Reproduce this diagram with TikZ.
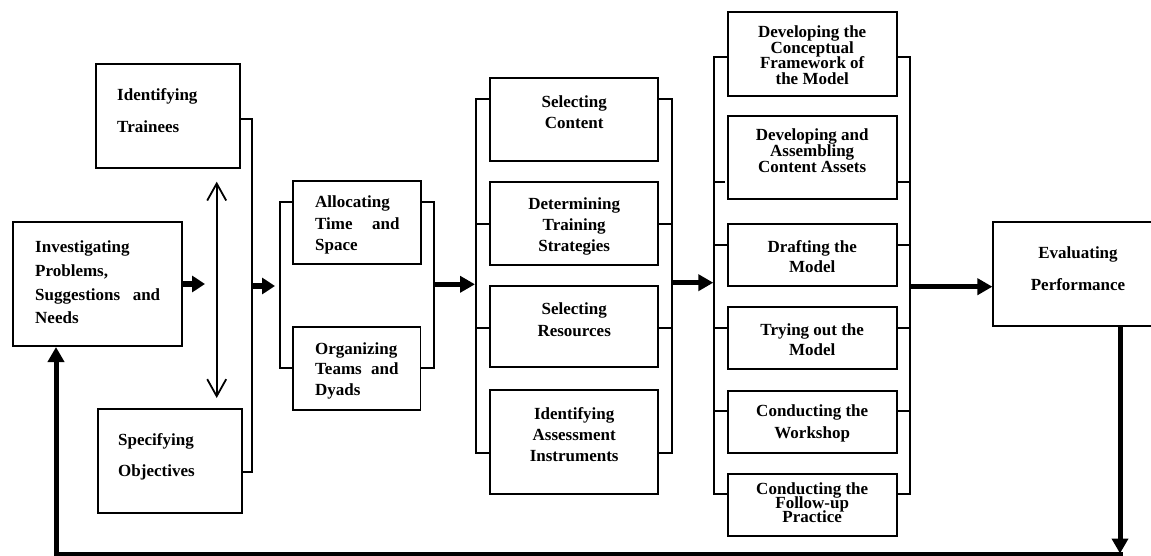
\documentclass[tikz,border=0pt]{standalone}
\usepackage{fontspec}
\setmainfont{Liberation Serif}
\usetikzlibrary{arrows.meta}
\newcommand{\fsz}[1]{\fontsize{17}{#1}\selectfont\bfseries\lineskiplimit=-50pt\relax}
\begin{document}
\begin{tikzpicture}[x=1pt,y=-1pt,
  box/.style={draw, line width=1.9pt, inner sep=0pt},
  txt/.style={inner sep=0pt},
  br/.style={line width=1.8pt},
  thk/.style={line width=5pt, -{Triangle[length=15pt,width=16pt]}},
  thks/.style={line width=6pt, -{Triangle[length=13pt,width=16pt]}},
  dbl/.style={line width=1.8pt, {Straight Barb[length=17pt,width=19pt]}-{Straight Barb[length=17pt,width=19pt]}}
]
\path[use as bounding box, fill=white] (0,0) rectangle (1151,556);

% ---- boxes
\node[box, minimum width=144pt, minimum height=104pt] (trainees) at (168,116) {};
\node[box, minimum width=169pt, minimum height=123.7pt] (inv) at (97.8,284.2) {};
\node[box, minimum width=144.6pt, minimum height=104pt] (spec) at (170,461.3) {};
\node[box, minimum width=127.7pt, minimum height=83.3pt] (alloc) at (357.2,222.7) {};
\node[box, minimum width=127.2pt, minimum height=83.3pt] (org) at (356.9,368.3) {};
\node[box, minimum width=168.3pt, minimum height=82.7pt] (selc) at (574.2,119.7) {};
\node[box, minimum width=168.3pt, minimum height=82.7pt] (det) at (574.2,223.7) {};
\node[box, minimum width=168.3pt, minimum height=81.3pt] (selr) at (574.2,326.7) {};
\node[box, minimum width=168.3pt, minimum height=104pt] (ident) at (574.2,442) {};
\node[box, minimum width=169pt, minimum height=83.4pt] (dev1) at (812.2,54) {};
\node[box, minimum width=169pt, minimum height=83.3pt] (dev2) at (812.2,157.7) {};
\node[box, minimum width=169pt, minimum height=62pt] (draft) at (812.2,255) {};
\node[box, minimum width=169pt, minimum height=62pt] (try) at (812.2,338.3) {};
\node[box, minimum width=169pt, minimum height=62pt] (work) at (812.2,421.7) {};
\node[box, minimum width=169pt, minimum height=61.7pt] (follow) at (812.2,504.9) {};
\node[box, minimum width=159.7pt, minimum height=104.3pt] (eval) at (1073.2,273.9) {};

% ---- texts
\node[txt, anchor=west, align=left, font=\fsz{32}] (traineesT) at (117,111) {Identifying\\Trainees};
\node[txt, anchor=west, align=left, font=\fsz{23.8}] (invT) at (35,282.3) {Investigating\\Problems,\\\hbox to 125pt{Suggestions\hfill and}\\Needs};
\node[txt, anchor=west, align=left, font=\fsz{31.3}] (specT) at (118,456.7) {Specifying\\Objectives};
\node[txt, anchor=west, align=left, font=\fsz{21.7}] (allocT) at (315,225) {Allocating\\\hbox to 84.3pt{Time\hfill and}\\Space};
\node[txt, anchor=west, align=left, font=\fsz{20.8}] (orgT) at (315,370.8) {Organizing\\\hbox to 83.3pt{Teams\hfill and}\\Dyads};
\node[txt, align=center, font=\fsz{21}] (selcT) at (574.2,112.2) {Selecting\\Content};
\node[txt, align=center, font=\fsz{21.2}] (detT) at (574.2,226.2) {Determining\\Training\\Strategies};
\node[txt, align=center, font=\fsz{21.7}] (selrT) at (574.2,319.8) {Selecting\\Resources};
\node[txt, align=center, font=\fsz{21.2}] (identT) at (574.2,434.5) {Identifying\\Assessment\\Instruments};
\node[txt, align=center, font=\fsz{15.5}] (dev1T) at (812.2,55) {Developing the\\Conceptual\\Framework of\\the Model};
\node[txt, align=center, font=\fsz{15.8}] (dev2T) at (812.2,150.8) {Developing and\\Assembling\\Content Assets};
\node[txt, align=center, font=\fsz{20}] (draftT) at (812.2,256.7) {Drafting the\\Model};
\node[txt, align=center, font=\fsz{20}] (tryT) at (812.2,340) {Trying out the\\Model};
\node[txt, align=center, font=\fsz{21.3}] (workT) at (812.2,423.3) {Conducting the\\Workshop};
\node[txt, align=center, font=\fsz{14.2}] (followT) at (812.2,502.8) {Conducting the\\Follow-up\\Practice};
\node[txt, align=center, font=\fsz{32.3}] (evalT) at (1078,268.8) {Evaluating\\Performance};

% ---- bracket A (trainees / objectives)
\coordinate (a1) at (252,119.3);
\coordinate (a2) at (252,472.3);
\draw[br] (trainees.east|-a1) -- (a1) -- (a2) -- (spec.east|-a2);
\coordinate (d1) at (216.7,181.7);
\coordinate (d2) at (216.7,398);
\draw[dbl] (d1) -- (d2);
\coordinate (a0) at (205,284);
\draw[thks] (inv.east|-a0) -- (a0);
\coordinate (am) at (252,286);
\coordinate (b0) at (275,286);
\draw[thks] (am) -- (b0);

% ---- bracket B
\coordinate (bl1) at (280,201.7);
\coordinate (bl2) at (280,368.3);
\coordinate (br1) at (433.7,201.7);
\coordinate (br2) at (433.7,368.3);
\draw[br] (alloc.west|-bl1) -- (bl1) -- (bl2) -- (org.west|-bl2);
\draw[br] (alloc.east|-br1) -- (br1) -- (br2) -- (org.east|-br2);
\coordinate (bm) at (433.7,284.3);
\coordinate (c0) at (475,284.3);
\draw[thk] (bm) -- (c0);

% ---- bracket C
\coordinate (cl1) at (476,99);
\coordinate (cl4) at (476,452.7);
\coordinate (cr1) at (672.3,99);
\coordinate (cr4) at (672.3,452.7);
\draw[br] (selc.west|-cl1) -- (cl1) -- (cl4) -- (ident.west|-cl4);
\draw[br] (selc.east|-cr1) -- (cr1) -- (cr4) -- (ident.east|-cr4);
\draw[br] (det.west|-0,224) -- (cl1|-0,224);
\draw[br] (det.east|-0,224) -- (cr1|-0,224);
\draw[br] (selr.west|-0,327.7) -- (cl1|-0,327.7);
\draw[br] (selr.east|-0,327.7) -- (cr1|-0,327.7);
\coordinate (cm) at (672.3,282.7);
\coordinate (e0) at (713.3,282.7);
\draw[thk] (cm) -- (e0);

% ---- bracket D
\coordinate (dl1) at (714,57.3);
\coordinate (dl6) at (714,494);
\coordinate (dr1) at (910,57.3);
\coordinate (dr6) at (910,494);
\draw[br] (dev1.west|-dl1) -- (dl1) -- (dl6) -- (follow.west|-dl6);
\draw[br] (dev1.east|-dr1) -- (dr1) -- (dr6) -- (follow.east|-dr6);
\draw[br] (725,182.3) -- (dl1|-0,182.3);
\draw[br] (dev2.east|-0,182.3) -- (dr1|-0,182.3);
\draw[br] (draft.west|-0,245) -- (dl1|-0,245);
\draw[br] (draft.east|-0,245) -- (dr1|-0,245);
\draw[br] (try.west|-0,327.7) -- (dl1|-0,327.7);
\draw[br] (try.east|-0,327.7) -- (dr1|-0,327.7);
\draw[br] (work.west|-0,411) -- (dl1|-0,411);
\draw[br] (work.east|-0,411) -- (dr1|-0,411);
\coordinate (dm) at (910,286.7);
\draw[thk] (dm) -- (eval.west|-dm);

% ---- feedback loop
\coordinate (f1) at (1120,553.5);
\coordinate (f2) at (56,553.5);
\draw[thk] (eval.south-|f1) -- (f1);
\draw[line width=4pt] (1122.5,553.5) -- (53.5,553.5);
\draw[thk] (f2) -- (inv.south-|f2);
\end{tikzpicture}
\end{document}
